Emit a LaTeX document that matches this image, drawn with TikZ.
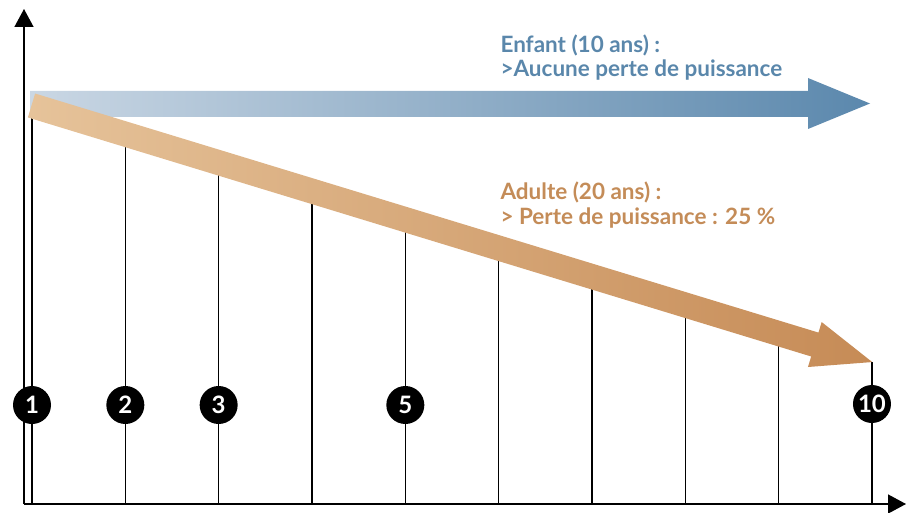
\documentclass[tikz,border=0pt]{standalone}
\usepackage{fontspec}
\setmainfont{Lato}
\usetikzlibrary{arrows.meta,calc}
\definecolor{enfanttxt}{HTML}{5A87AB}
\definecolor{adultetxt}{HTML}{C48C58}
\definecolor{bluelight}{HTML}{CAD7E4}
\definecolor{bluedark}{HTML}{5B88AD}
\definecolor{brownlight}{HTML}{E6C39A}
\definecolor{browndark}{HTML}{C68B56}

\begin{document}
\begin{tikzpicture}
[
	x=1pt,y=-1pt,
	axis/.style={line width=1.4pt,-{Triangle[length=18pt,width=19pt]}},
	tick/.style={line width=1.1pt},
	num/.style={circle,fill=black,text=white,minimum size=38pt,inner sep=0pt,font=\fontsize{24}{24}\selectfont\bfseries},
	txt/.style={anchor=base west,font=\fontsize{22.5}{24}\selectfont\bfseries},
]
	\useasboundingbox (0,0) rectangle (907,513);

	\coordinate (O) at (24,504);
	\coordinate (ytop) at (24,9);
	\coordinate (xend) at (906,504);

	\foreach \i in {1,...,10}{
		\coordinate (b\i) at ({32+(\i-1)*93.33},504);
		\coordinate (t\i) at ({32+(\i-1)*93.33},{105.5+0.3052*((\i-1)*93.33)});
		\draw[tick] (b\i) -- (t\i);
	}

	\draw[axis] (O) -- (ytop);
	\draw[axis] (O) -- (xend);

	\begin{scope}
		\shade[left color=bluelight,right color=bluedark]
			(30,91) -- (808,91) -- (808,78) -- (870,103.5) -- (808,129) -- (808,117) -- (30,117) -- cycle;
	\end{scope}

	\begin{scope}[shift={(31.5,105.5)},rotate=-16.97]
		\shade[left color=brownlight,right color=browndark]
			(0,-12.5) -- (819,-12.5) -- (819,-23.5) -- (879,0) -- (819,23.5) -- (819,12.5) -- (0,12.5) -- cycle;
	\end{scope}

	\node[num] (n1) at (32,405) {1};
	\node[num] (n2) at ($(b2)+(0,-99)$) {2};
	\node[num] (n3) at ($(b3)+(0,-99)$) {3};
	\node[num] (n5) at ($(b5)+(0,-99)$) {5};
	\node[num] (n10) at ($(b10)+(0,-100)$) {10};

	\node[txt,text=enfanttxt] (enfant) at (497,53) {Enfant (10 ans) :};
	\node[txt,text=enfanttxt] (enfantb) at (497,77) {>Aucune perte de puissance};
	\node[txt,text=adultetxt] (adulte) at (497,200) {Adulte (20 ans) :};
	\node[txt,text=adultetxt] (adulteb) at (497,224) {> Perte de puissance : 25 \%};
\end{tikzpicture}
\end{document}
